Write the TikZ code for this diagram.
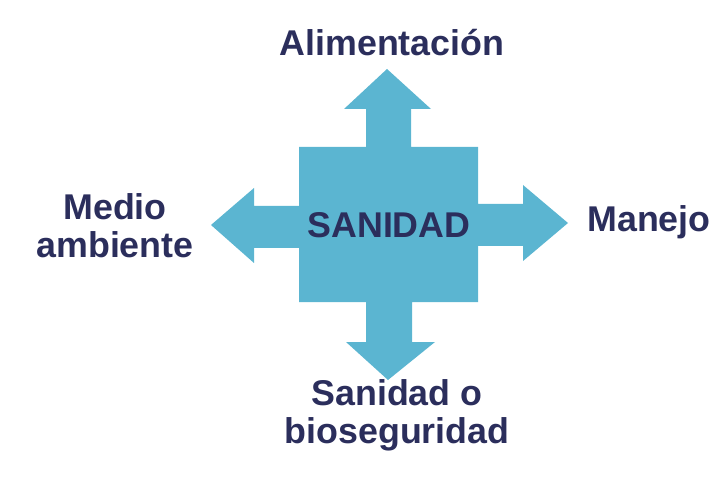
\documentclass[tikz,border=0pt]{standalone}
\usepackage{fontspec}
\setmainfont{Liberation Sans}
\definecolor{crossblue}{HTML}{5BB5D1}
\definecolor{navy}{HTML}{2B2E5C}
\begin{document}
\begin{tikzpicture}[x=1pt,y=-1pt,
  lbl/.style={font=\fontsize{35.8}{38}\selectfont\bfseries, text=navy, inner sep=0pt, anchor=base, align=center}]
\useasboundingbox (0,0) rectangle (713,484);
\fill[crossblue] (299,147) -- (366,147) -- (366,109) -- (344,109) -- (387,69) -- (431,109) -- (411,109) -- (411,147)
  -- (478,147) -- (478,204) -- (523,204) -- (523,185) -- (568,223) -- (523,261) -- (523,246) -- (478,246)
  -- (478,302) -- (412,302) -- (412,342) -- (435,342) -- (388,380) -- (346,342) -- (366,342) -- (366,302)
  -- (299,302) -- (299,248) -- (254,248) -- (254,263) -- (211,225) -- (254,188) -- (254,206) -- (299,206) -- cycle;
\node[lbl] (center) at (389,237) {SANIDAD};
\node[lbl] (top) at (392,56) {Alimentación};
\node[lbl] (right) at (649,232) {Manejo};
\node[lbl, anchor=north] (left) at (115,193) {Medio\\ambiente};
\node[lbl, anchor=north] (bottom) at (397,379) {Sanidad o\\bioseguridad};
\end{tikzpicture}
\end{document}
